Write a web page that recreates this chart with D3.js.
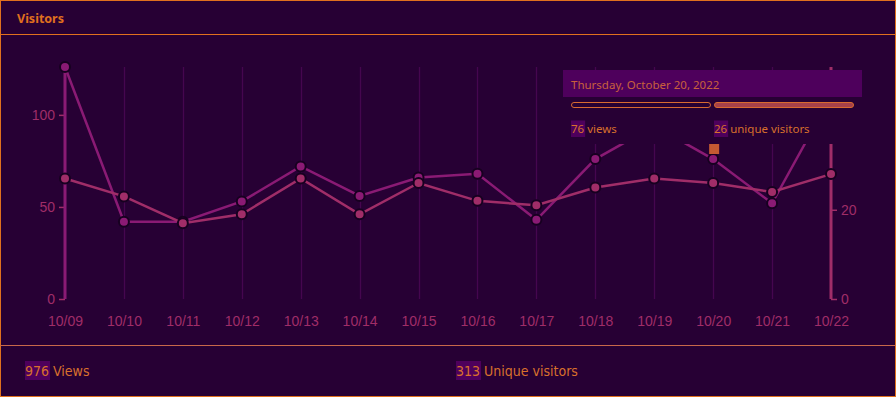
<!DOCTYPE html>
<html>
<head>
<meta charset="utf-8">
<script src="https://cdn.jsdelivr.net/npm/d3@7"></script>
<style>
  html, body { margin: 0; padding: 0; background: #270034; }
  svg { display: block; }
</style>
</head>
<body>
<svg width="896" height="397"></svg>
<script>
// data
var dates = ["10/09", "10/10", "10/11", "10/12", "10/13", "10/14", "10/15", "10/16", "10/17", "10/18", "10/19", "10/20", "10/21", "10/22"]
var views = [126, 42, 42, 53, 72, 56, 66, 68, 43, 76, 94, 76, 52, 110]
var visitors = [27, 23, 17, 19, 27, 19, 26, 22, 21, 25, 27, 26, 24, 28]
var viewTicks = [0, 50, 100]
var visitorTicks = [0, 20, 40]
var totalViews = 976
var totalVisitors = 313
var hoverIndex = 11
var tooltipDate = "Thursday, October 20, 2022"

var bg = "#270034",
  orange = "#e0701e",
  viewColor = "#8a1a74",
  visitorColor = "#a02d68",
  gridColor = "#45064f",
  dark = "#170020",
  headBg = "#4e005c"

var svg = d3.select("svg"),
  width = 896,
  height = 397

// card frame
svg.append("rect").attr("x", 0.5).attr("y", 0.5).attr("width", width - 1).attr("height", height - 1)
  .attr("fill", bg).attr("stroke", orange)
svg.append("line").attr("x1", 0).attr("x2", width).attr("y1", 34.5).attr("y2", 34.5).attr("stroke", orange)
svg.append("line").attr("x1", 0).attr("x2", width).attr("y1", 345.5).attr("y2", 345.5).attr("stroke", "#c8684a")
svg.append("text").attr("x", 17).attr("y", 23).text("Visitors")
  .attr("fill", orange).style("font", "bold 12.5px 'Noto Sans', sans-serif")

////////// SCALES //////////
var x = d3.scalePoint().domain(dates).range([65, 831])
var yL = d3.scaleLinear().domain([0, d3.max(views)]).range([299, 67])
var yR = d3.scaleLinear().domain([0, 52]).range([299, 67])

// grid
svg.append("g").selectAll("line").data(dates.slice(1, -1)).enter().append("line")
  .attr("x1", d => Math.round(x(d)) + 0.5).attr("x2", d => Math.round(x(d)) + 0.5)
  .attr("y1", 67).attr("y2", 299)
  .attr("stroke", gridColor).attr("stroke-width", 1.3)

// axes
var axisL = svg.append("g").attr("transform", "translate(65,0)")
  .call(d3.axisLeft(yL).tickValues(viewTicks).tickSize(6).tickPadding(4))
axisL.select(".domain").remove()
axisL.append("line").attr("y1", 67).attr("y2", 299).attr("stroke", viewColor).attr("stroke-width", 3)
axisL.selectAll(".tick line").attr("stroke", visitorColor).attr("stroke-width", 1.5)
axisL.selectAll(".tick text").attr("fill", visitorColor).style("font", "14px 'Liberation Sans', Arial, sans-serif")

var axisR = svg.append("g").attr("transform", "translate(831,0)")
  .call(d3.axisRight(yR).tickValues(visitorTicks).tickSize(6).tickPadding(4))
axisR.select(".domain").remove()
axisR.append("line").attr("y1", 67).attr("y2", 299).attr("stroke", visitorColor).attr("stroke-width", 3)
axisR.selectAll(".tick line").attr("stroke", visitorColor).attr("stroke-width", 1.5)
axisR.selectAll(".tick text").attr("fill", visitorColor).style("font", "14px 'Liberation Sans', Arial, sans-serif")

var axisX = svg.append("g").attr("transform", "translate(0,299)")
  .call(d3.axisBottom(x).tickSize(0).tickPadding(17))
axisX.select(".domain").remove()
axisX.selectAll(".tick text").attr("fill", visitorColor).style("font", "14px 'Liberation Sans', Arial, sans-serif")

////////// LINES //////////
function drawSeries(values, y, color) {
  var line = d3.line().x((d, i) => x(dates[i])).y(d => y(d))
  svg.append("path").datum(values).attr("d", line)
    .attr("fill", "none").attr("stroke", color).attr("stroke-width", 2.5)
  svg.append("g").selectAll("circle").data(values).enter().append("circle")
    .attr("cx", (d, i) => x(dates[i])).attr("cy", d => y(d)).attr("r", 5)
    .attr("fill", color).attr("stroke", dark).attr("stroke-width", 2)
}
drawSeries(views, yL, viewColor)
drawSeries(visitors, yR, visitorColor)

// hover marker
svg.append("rect").attr("x", x(dates[hoverIndex]) - 4).attr("y", 144).attr("width", 10).attr("height", 10)
  .attr("fill", "#c45a32")

////////// TOOLTIP //////////
var tip = svg.append("g")
tip.append("rect").attr("x", 563).attr("y", 70).attr("width", 299).attr("height", 74).attr("fill", bg)
tip.append("rect").attr("x", 563).attr("y", 70).attr("width", 299).attr("height", 27).attr("fill", headBg)
tip.append("text").attr("x", 571).attr("y", 89).text(tooltipDate)
  .attr("fill", "#c8603c").style("font", "11.5px 'Noto Sans', sans-serif")
tip.append("rect").attr("x", 571.5).attr("y", 102.5).attr("width", 139).attr("height", 5).attr("rx", 2.5)
  .attr("fill", bg).attr("stroke", "#d86a30")
tip.append("rect").attr("x", 714.5).attr("y", 102.5).attr("width", 139).attr("height", 5).attr("rx", 2.5)
  .attr("fill", "#a6404a").attr("stroke", "#d86a30")

function stat(g, xp, yp, num, label, size, family) {
  var t = g.append("text").attr("x", xp).attr("y", yp)
    .style("font", size + "px " + family).attr("fill", "#d8702c")
  t.append("tspan").text(num)
  t.append("tspan").text(" " + label)
  var w = t.select("tspan").node().getComputedTextLength()
  g.insert("rect", function () { return t.node() })
    .attr("x", xp).attr("y", yp - size - 1).attr("width", w + 1).attr("height", size + 5)
    .attr("fill", headBg)
}
stat(tip, 571, 133, views[hoverIndex], "views", 11.5, "'Noto Sans', sans-serif")
stat(tip, 714, 133, visitors[hoverIndex], "unique visitors", 11.5, "'Noto Sans', sans-serif")

// footer totals
var foot = svg.append("g")
stat(foot, 25, 376, totalViews, "Views", 14, "'Liberation Sans Narrow', 'DejaVu Sans Condensed', sans-serif")
stat(foot, 456, 376, totalVisitors, "Unique visitors", 14, "'Liberation Sans Narrow', 'DejaVu Sans Condensed', sans-serif")
</script>
</body>
</html>
